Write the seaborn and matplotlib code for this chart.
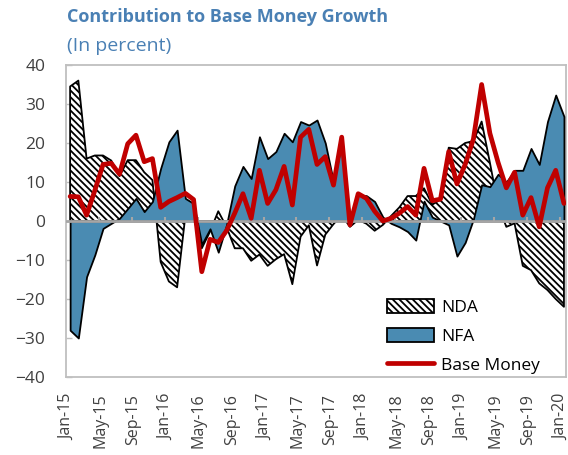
import numpy as np
import pandas as pd
import matplotlib
matplotlib.use("Agg")
import matplotlib.pyplot as plt
import matplotlib.transforms as mtransforms
from matplotlib.patches import Patch
from matplotlib.lines import Line2D
import seaborn as sns

# monthly, Jan-15 .. Jan-20
months = pd.date_range("2015-01-01", "2020-01-01", freq="MS")
month_labels = [d.strftime("%b-%y") for d in months]

nda = [34.5, 36.0, 16.0, 16.8, 16.8, 15.5, 11.5, 15.6, 15.6, 12.5,
       10.5, -10.5, -15.5, -17.0, 1.3, 1.0, -7.0, -2.7, 2.5, -1.5,
       -7.0, -7.0, -10.2, -8.6, -11.5, -9.8, -8.5, -16.2, -4.0, -1.1,
       -11.4, -3.5, -0.8, 1.5, -1.5, 0.3, -0.7, -2.5, -1.0, 1.3,
       3.5, 6.4, 6.4, 8.4, 4.2, 5.5, 18.8, 18.5, 20.0, 20.5,
       25.5, 15.0, 4.0, -1.5, -0.6, -11.5, -12.6, -16.0, -17.7, -20.0,
       -22.0]
nfa = [-28.0, -30.0, -14.3, -8.7, -1.9, -0.6, 0.7, 3.2, 5.8, 2.4,
       5.0, 13.5, 20.3, 23.3, 5.8, 4.5, -6.0, -2.0, -8.0, -1.0,
       9.0, 14.0, 10.9, 21.6, 16.0, 17.8, 22.5, 20.3, 25.5, 24.6,
       25.9, 20.0, 10.0, 20.0, 0.5, 6.7, 6.5, 5.0, 1.0, -0.6,
       -1.5, -2.7, -4.9, 5.1, 1.0, 0.0, -1.0, -9.0, -5.5, 0.5,
       9.3, 8.8, 12.0, 10.0, 13.0, 13.0, 18.6, 14.5, 25.5, 32.3,
       26.8]
base_money = [6.3, 6.2, 1.5, 7.8, 14.5, 14.8, 12.0, 19.8, 22.0, 15.2,
              16.0, 3.5, 5.0, 6.0, 7.1, 5.5, -13.0, -4.7, -5.5, -2.5,
              2.0, 7.0, 0.7, 13.0, 4.5, 8.0, 14.0, 4.1, 21.5, 23.5,
              14.5, 16.5, 9.2, 21.5, -1.0, 7.0, 5.8, 2.5, 0.0, 0.7,
              2.0, 3.7, 1.5, 13.5, 5.2, 5.6, 17.8, 9.5, 14.5, 21.0,
              35.0, 22.5, 15.0, 8.5, 12.5, 1.5, 6.0, -1.5, 8.5, 13.0,
              4.5]

df = pd.DataFrame({"idx": np.arange(len(months)), "NDA": nda, "NFA": nfa,
                   "Base Money": base_money})

blue = "#4A8BB2"
red = "#C00000"
title_col = "#4A80B4"
txt_col = "#404040"
frame_col = "#BFBFBF"
hatch = "\\\\\\\\\\"

sns.set_theme(style="white")
plt.rcParams["font.family"] = ["Open Sans", "DejaVu Sans"]
plt.rcParams["hatch.linewidth"] = 1.3

fig = plt.figure(figsize=(5.68, 4.55), dpi=100)
ax = fig.add_axes([66 / 568, 1 - 377 / 455, 500 / 568, 312 / 455])

ax.fill_between(df["idx"], 0, df["NDA"], facecolor="white", edgecolor="black",
                hatch=hatch, linewidth=1.3, zorder=2)
ax.fill_between(df["idx"], 0, df["NFA"], facecolor=blue, edgecolor="black",
                linewidth=1.3, zorder=3)
ax.axhline(0, color="#A6A6A6", lw=2, zorder=4)
tick_pos = np.arange(4, len(months), 4) - 0.5
ax.vlines(tick_pos, 0, 1.0, color="#A6A6A6", lw=1.5, zorder=4)
sns.lineplot(data=df, x="idx", y="Base Money", color=red, lw=3.4, ax=ax,
             zorder=5)

ax.set_xlim(-0.5, 60.25)
ax.set_ylim(-40, 40)
ax.set_yticks(range(-40, 41, 10))
ax.set_xticks(df["idx"][::4])
ax.set_xticklabels(month_labels[::4], rotation=90)
ax.set_xlabel("")
ax.set_ylabel("")
ax.tick_params(axis="x", length=0, pad=12, labelsize=11.5, colors=txt_col)
ax.tick_params(axis="y", direction="in", length=4, width=1, color=frame_col,
               pad=15, labelsize=12.5, labelcolor=txt_col, left=True)
shift = mtransforms.ScaledTranslation(-3 / 100, 0, fig.dpi_scale_trans)
for lab in ax.get_xticklabels():
    lab.set_transform(lab.get_transform() + shift)
for s in ax.spines.values():
    s.set_visible(True)
    s.set_color(frame_col)
    s.set_linewidth(1.3)

handles = [Patch(facecolor="white", edgecolor="black", hatch=hatch, lw=1.3),
           Patch(facecolor=blue, edgecolor="black", lw=1.3),
           Line2D([0], [0], color=red, lw=3.4)]
ax.legend(handles, ["NDA", "NFA", "Base Money"], loc="lower left",
          bbox_to_anchor=(0.642, 0.01), frameon=False, borderpad=0,
          borderaxespad=0, handlelength=2.7, handleheight=0.9,
          handletextpad=0.4, labelspacing=0.68, fontsize=12.5,
          labelcolor="black")

fig.text(67 / 568, 1 - 17 / 455, "Contribution to Base Money Growth",
         fontsize=13, fontweight="bold", color=title_col, va="center")
fig.text(67 / 568, 1 - 46 / 455, "(In percent)", fontsize=14,
         color=title_col, va="center")

fig.savefig("out.png", dpi=100)
